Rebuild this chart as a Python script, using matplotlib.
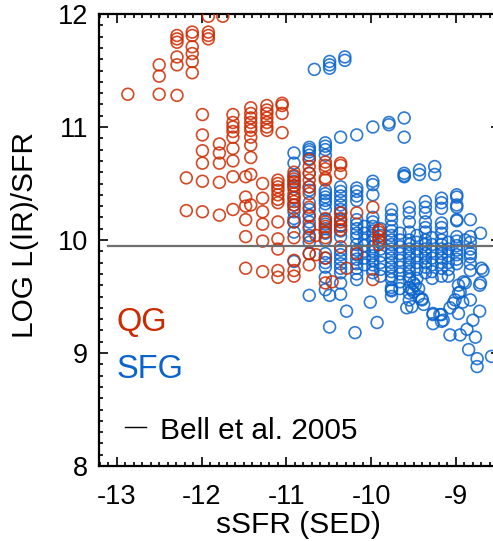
"""
sSFR vs LOG L(IR)/SFR scatter (QG / SFG)
"""
import matplotlib
matplotlib.use('Agg')
import matplotlib.pyplot as plt
from matplotlib.ticker import MultipleLocator

plt.rcParams['font.family'] = ['Liberation Sans', 'DejaVu Sans']

# 데이터: (sSFR, [LOG L(IR)/SFR ...]) 열 단위
qg_columns = [
    (-12.87, [11.29]),
    (-12.50, [11.55, 11.45, 11.29]),
    (-12.29, [11.81, 11.78, 11.75, 11.62, 11.55, 11.28]),
    (-12.11, [11.84, 11.81, 11.71, 11.65, 11.58, 11.48]),
    (-11.92, [11.98, 11.84, 11.81, 11.78]),
    (-11.75, [11.98]),
    (-12.18, [10.55, 10.26]),
    (-11.99, [11.11, 10.93, 10.79, 10.68, 10.52, 10.25]),
    (-11.79, [10.85, 10.77, 10.68, 10.51, 10.22]),
    (-11.63, [11.11, 11.04, 11.00, 10.96, 10.91, 10.81, 10.70, 10.56, 10.27]),
    (-11.48, [10.56, 10.38, 10.30, 10.18, 10.03, 9.75]),
    (-11.42, [11.17, 11.12, 11.08, 11.04, 11.00, 10.97, 10.91, 10.84, 10.73, 10.58, 10.31]),
    (-11.28, [10.50, 10.37, 10.25, 10.14, 9.99, 9.72]),
    (-11.23, [11.19, 11.15, 11.12, 11.08, 11.04, 11.00, 10.97]),
    (-11.10, [10.53, 10.50, 10.47, 10.44, 10.40, 10.36, 10.33, 10.16, 10.01, 9.92, 9.73, 9.67]),
    (-11.05, [11.21, 11.19, 11.12, 10.95]),
    (-10.91, [10.60, 10.57, 10.54, 10.51, 10.48, 10.45, 10.41, 10.38, 10.34, 10.31, 10.28,
              10.16, 10.02, 9.82, 9.73, 9.68]),
    (-10.73, [10.71, 10.65, 10.59, 10.53, 10.47, 10.41, 10.29, 10.21, 10.12, 10.02, 9.88, 9.78]),
    (-10.65, [10.04, 9.87]),
    (-10.54, [10.69, 10.66, 10.63, 10.55, 10.53, 10.19, 10.16, 10.12, 10.07, 10.02, 9.84, 9.62]),
    (-10.46, [9.63]),
    (-10.36, [10.68, 10.66, 10.59, 10.24, 10.19, 10.16, 10.12, 10.09, 9.94]),
    (-10.29, [9.75]),
    (-10.17, [10.24, 9.88]),
    (-9.98, [10.29, 9.65]),
    (-9.91, [10.09, 10.07, 10.03, 10.00, 9.96]),
]

sfg_columns = [
    (-10.91, [10.77, 10.68, 10.56, 10.52, 10.48, 10.37, 10.31, 10.25, 10.19, 10.16, 10.07, 9.81]),
    (-10.73, [10.82, 10.80, 10.78, 10.75, 10.72, 10.59, 10.47, 10.44, 10.33, 10.27, 10.22,
              10.16, 10.10, 10.04, 9.98, 9.88, 9.51]),
    (-10.67, [11.51]),
    (-10.54, [10.86, 10.83, 10.80, 10.75, 10.44, 10.41, 10.38, 10.35, 10.32, 10.27, 10.18,
              10.14, 10.10, 10.06, 10.00, 9.88, 9.84, 9.80, 9.76, 9.67, 9.56]),
    (-10.49, [11.58, 11.55, 11.52, 9.51, 9.23]),
    (-10.36, [10.91, 10.47, 10.43, 10.39, 10.35, 10.31, 10.27, 10.24, 10.18, 10.13, 10.08,
              10.03, 9.91, 9.87, 9.83, 9.79, 9.75, 9.71, 9.62, 9.52]),
    (-10.31, [11.62, 11.59]),
    (-10.29, [9.37]),
    (-10.19, [9.18]),
    (-10.17, [10.93, 10.46, 10.43, 10.39, 10.35, 10.18, 10.14, 10.10, 10.06, 10.02, 9.96,
              9.91, 9.87, 9.83, 9.79, 9.75, 9.70, 9.65]),
    (-10.08, [10.12, 10.06, 10.00, 9.95, 9.90, 9.84, 9.78]),
    (-10.01, [9.45]),
    (-9.98, [11.00, 10.52, 10.49, 10.40, 10.20, 10.16, 10.12, 10.08, 10.04, 10.00, 9.94,
             9.90, 9.86, 9.82, 9.78, 9.74, 9.71]),
    (-9.93, [9.27]),
    (-9.89, [10.10, 10.04, 9.98, 9.92, 9.86, 9.80, 9.74, 9.68]),
    (-9.79, [11.04, 11.02]),
    (-9.76, [10.27, 10.22, 10.18, 10.12, 10.08, 10.04, 10.00, 9.96, 9.92, 9.88, 9.84, 9.80,
             9.76, 9.72, 9.68, 9.65, 9.58, 9.56, 9.55, 9.50]),
    (-9.66, [10.06, 10.00, 9.94, 9.88, 9.82, 9.76, 9.70, 9.63, 9.57]),
    (-9.61, [11.08, 10.91, 10.59, 10.57, 10.56]),
    (-9.58, [9.40]),
    (-9.55, [10.29, 10.24, 10.16, 10.07, 10.00, 9.96, 9.92, 9.88, 9.84, 9.80, 9.76, 9.72,
             9.68, 9.65, 9.58, 9.53, 9.47]),
    (-9.52, [9.41, 9.56]),
    (-9.50, [9.62, 9.54]),
    (-9.48, [9.60]),
    (-9.46, [10.04, 9.98, 9.92, 9.86, 9.80, 9.74, 9.66]),
    (-9.44, [9.57, 9.50]),
    (-9.43, [10.62, 10.58]),
    (-9.40, [9.47, 9.48]),
    (-9.38, [9.43]),
    (-9.36, [10.34, 10.29, 10.24, 10.16, 10.11, 10.07, 10.00, 9.96, 9.92, 9.88, 9.84, 9.80,
             9.76, 9.71]),
    (-9.28, [10.02, 9.96, 9.90, 9.84, 9.78, 9.72, 9.66]),
    (-9.27, [9.35, 9.34, 9.26]),
    (-9.25, [10.65, 10.58]),
    (-9.19, [9.34]),
    (-9.17, [10.37, 10.33, 10.28, 10.15, 10.11, 10.06, 10.00, 9.96, 9.92, 9.88, 9.84, 9.80,
             9.75, 9.68, 9.34, 9.28]),
    (-9.15, [9.29]),
    (-9.09, [9.98, 9.92, 9.86, 9.80, 9.74, 9.68]),
    (-9.07, [9.40, 9.16]),
    (-9.03, [9.44]),
    (-9.01, [9.47]),
    (-8.99, [10.40, 10.38, 10.31, 10.29, 10.18, 10.17, 10.03, 9.99, 9.95, 9.91, 9.87, 9.83, 9.79]),
    (-8.97, [9.60, 9.53, 9.35]),
    (-8.95, [9.54, 9.16]),
    (-8.92, [9.45]),
    (-8.91, [9.63]),
    (-8.89, [10.00, 9.62]),
    (-8.87, [9.21]),
    (-8.85, [9.03]),
    (-8.83, [10.18, 10.03, 9.98, 9.92, 9.88, 9.85, 9.79, 9.73, 9.47]),
    (-8.80, [9.29]),
    (-8.77, [9.14]),
    (-8.75, [8.95, 8.88]),
    (-8.72, [9.60, 9.37]),
    (-8.71, [10.06, 9.62]),
    (-8.70, [9.75]),
    (-8.68, [9.73]),
    (-8.58, [8.97]),
]

bell_level = 9.95
bell_xrange = [-13.1, -8.0]

x_ticks = [-13, -12, -11, -10, -9]
y_ticks = [8, 9, 10, 11, 12]

RED = '#cc2a00'
BLUE = '#0a64cc'


def flatten(columns):
    xs, ys = [], []
    for x, vals in columns:
        for v in vals:
            xs.append(x)
            ys.append(v)
    return xs, ys


qg_x, qg_y = flatten(qg_columns)
sfg_x, sfg_y = flatten(sfg_columns)

fig = plt.figure(figsize=(4.93, 5.41), dpi=100)
ax = fig.add_axes([99 / 493, 75 / 541, 401 / 493, 452 / 541])

ax.scatter(sfg_x, sfg_y, s=72, facecolors='none', edgecolors=BLUE,
           linewidths=1.2, alpha=0.85, zorder=2)
ax.scatter(qg_x, qg_y, s=72, facecolors='none', edgecolors=RED,
           linewidths=1.2, alpha=0.85, zorder=3)

ax.plot(bell_xrange, [bell_level, bell_level], color='#6e6e6e', lw=1.6, zorder=4)

ax.set_xlim(-13.21, -8.48)
ax.set_ylim(8, 12)
ax.set_xticks(x_ticks)
ax.set_xticklabels([str(t) for t in x_ticks])
ax.set_yticks(y_ticks)
ax.xaxis.set_minor_locator(MultipleLocator(0.1))
ax.yaxis.set_minor_locator(MultipleLocator(0.1))
ax.tick_params(which='both', direction='in', top=True, right=True, width=1.2,
               labelsize=19.5, colors='black')
ax.tick_params(which='major', length=6.5)
ax.tick_params(which='minor', length=3)
ax.tick_params(axis='x', pad=13)
ax.tick_params(axis='y', pad=8)
for sp in ax.spines.values():
    sp.set_linewidth(1.6)

ax.set_xlabel('sSFR (SED)', fontsize=21.5)
ax.xaxis.set_label_coords(0.497, -0.099)
ax.set_ylabel('LOG L(IR)/SFR', fontsize=21.5)
ax.yaxis.set_label_coords(-0.185, 0.511)
ax.yaxis.label.set_verticalalignment('center')

# 범례 텍스트
ax.text(0.044, 0.299, 'QG', color=RED, fontsize=23.5, transform=ax.transAxes, va='baseline')
ax.text(0.045, 0.195, 'SFG', color=BLUE, fontsize=23.5, transform=ax.transAxes, va='baseline')
ax.plot([0.065, 0.116], [0.0863, 0.0863], color='black', lw=1.0, transform=ax.transAxes)
ax.text(0.152, 0.060, 'Bell et al. 2005', color='black', fontsize=21.5,
        transform=ax.transAxes, va='baseline')

fig.savefig('out.png', dpi=100)
